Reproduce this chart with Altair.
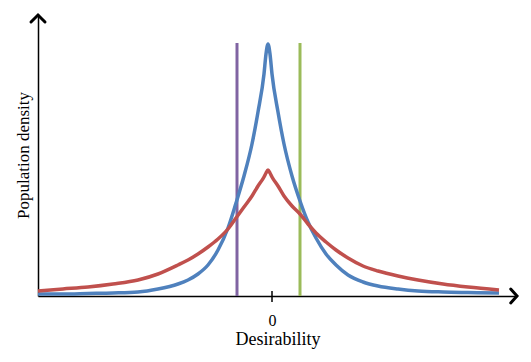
import altair as alt
import pandas as pd

# Desirability positions (0 = axis tick)
x_vals = [-234, -209, -184, -159, -134, -114, -94, -84, -74, -64, -54, -44, -36, -28,
          -20, -14, -8, -6, -4, -2, 0, 6, 12, 20, 28, 36, 44, 54, 64, 76, 91, 106,
          126, 146, 171, 196, 227]
# Population density, narrow (blue) population
blue_vals = [2, 2, 2.5, 3, 4, 7, 12, 16, 22, 31, 46, 68, 93, 120,
             152, 184, 222, 242, 252, 242, 222, 184, 152, 120, 95, 74, 58, 42, 31, 21, 14, 10,
             7, 5, 4, 3.5, 3]
# Population density, wide (red) population
red_vals = [5, 7, 9, 12, 16, 22, 31, 36, 42, 49, 57, 67, 78, 89,
            100, 110, 119, 123, 126, 123, 119, 110, 100, 90, 82, 72, 63, 54, 46, 38, 30, 25,
            20, 16, 12, 9, 6]

series_names = ["narrow", "wide"]
series_colors = ["#4F81BD", "#C0504D"]

vline_x = [-35, 28]
vline_names = ["lower", "upper"]
vline_colors = ["#8064A2", "#9BBB59"]
vline_top = 253

x_domain = [-234, 245]
y_domain = [0, 282]

SERIF = "Liberation Serif"

curves = pd.DataFrame(
    [{"x": x, "y": b, "series": "narrow"} for x, b in zip(x_vals, blue_vals)]
    + [{"x": x, "y": r, "series": "wide"} for x, r in zip(x_vals, red_vals)]
)
vlines = pd.DataFrame({"x": vline_x, "name": vline_names,
                       "y0": [0, 0], "y1": [vline_top, vline_top]})
tick = pd.DataFrame({"x": [0], "y0": [-6], "y1": [5]})
arrows_right = pd.DataFrame({"x": [x_domain[1]], "y": [0]})
arrows_up = pd.DataFrame({"x": [x_domain[0]], "y": [y_domain[1] - 1]})

xscale = alt.Scale(domain=x_domain, nice=False, zero=False)
yscale = alt.Scale(domain=y_domain, nice=False, zero=False)

x_axis = alt.Axis(values=[0], ticks=False, grid=False, domainColor="black", domainWidth=1.5,
                  labelFont=SERIF, labelFontSize=16, labelColor="black", labelPadding=16,
                  title="Desirability", titleFont=SERIF, titleFontSize=18,
                  titleFontWeight="normal", titleColor="black", titlePadding=2)
y_axis = alt.Axis(labels=False, ticks=False, grid=False, domainColor="black", domainWidth=1.5,
                  title="Population density", titleFont=SERIF, titleFontSize=17,
                  titleFontWeight="normal", titleColor="black", titlePadding=6)

base_curves = alt.Chart(curves).mark_line(strokeWidth=3.5, interpolate="monotone").encode(
    x=alt.X("x:Q", scale=xscale, axis=x_axis),
    y=alt.Y("y:Q", scale=yscale, axis=y_axis),
    color=alt.Color("series:N", scale=alt.Scale(domain=series_names, range=series_colors), legend=None),
    order=alt.Order("x:Q"),
)

rules = alt.Chart(vlines).mark_rule(strokeWidth=3).encode(
    x=alt.X("x:Q", scale=xscale),
    y=alt.Y("y0:Q", scale=yscale),
    y2="y1:Q",
    color=alt.Color("name:N", scale=alt.Scale(domain=vline_names, range=vline_colors), legend=None),
)

tick_rule = alt.Chart(tick).mark_rule(strokeWidth=1.5, color="black").encode(
    x=alt.X("x:Q", scale=xscale),
    y=alt.Y("y0:Q", scale=yscale),
    y2="y1:Q",
)

arrow_r = alt.Chart(arrows_right).mark_point(
    shape="M -0.9 -1 L 0 0 L -0.9 1", filled=False, stroke="black", strokeWidth=3,
    size=196, opacity=1, strokeCap="round", strokeJoin="miter"
).encode(x=alt.X("x:Q", scale=xscale), y=alt.Y("y:Q", scale=yscale))

arrow_u = alt.Chart(arrows_up).mark_point(
    shape="M -1 1 L 0 0 L 1 1", filled=False, stroke="black", strokeWidth=3,
    size=196, opacity=1, strokeCap="round", strokeJoin="miter"
).encode(x=alt.X("x:Q", scale=xscale), y=alt.Y("y:Q", scale=yscale))

chart = alt.layer(rules, base_curves, tick_rule, arrow_r, arrow_u).resolve_scale(
    color="independent"
).properties(
    width=479, height=282,
    autosize=alt.AutoSizeParams(type="none"),
    padding={"left": 30, "top": 6, "right": 6, "bottom": 58},
    background="white",
).configure_view(stroke=None)

chart.save("out.html", embed_options={"renderer": "svg", "actions": False})
